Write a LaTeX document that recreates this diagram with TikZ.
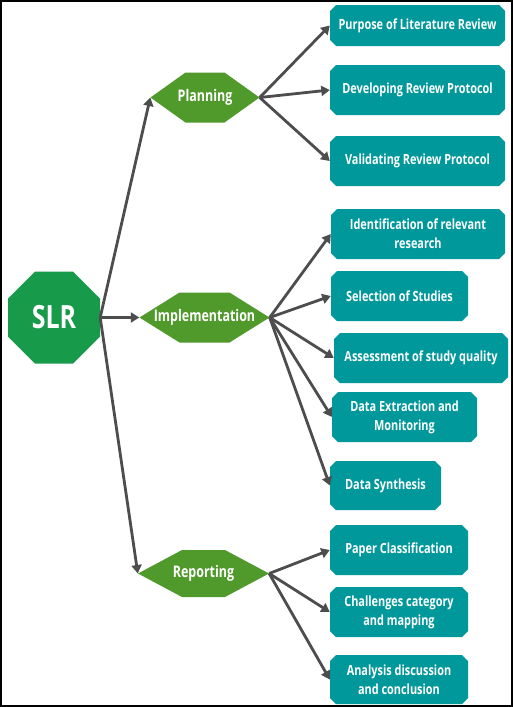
\documentclass[tikz,border=0pt]{standalone}
\usepackage{fontspec}
\setmainfont{Open Sans}[FakeStretch=0.78]
\usetikzlibrary{arrows.meta}
\definecolor{slrgreen}{HTML}{179A49}
\definecolor{hexgreen}{HTML}{4F9A2B}
\definecolor{boxteal}{HTML}{00989A}
\definecolor{arrowgray}{HTML}{4D4D4D}
\tikzset{
  hexa/.style n args={3}{shape=rectangle, inner sep=0pt, minimum width=#1pt, minimum height=#2pt,
    text=white, font=\fontsize{16}{19}\selectfont\bfseries,
    path picture={\fill[hexgreen] (path picture bounding box.west)
      -- ([xshift=#3pt]path picture bounding box.north west)
      -- ([xshift=-#3pt]path picture bounding box.north east)
      -- (path picture bounding box.east)
      -- ([xshift=-#3pt]path picture bounding box.south east)
      -- ([xshift=#3pt]path picture bounding box.south west) -- cycle;}},
  tbox/.style 2 args={shape=rectangle, inner sep=0pt, minimum width=#1pt, minimum height=#2pt,
    text=white, align=center, font=\fontsize{14}{19}\selectfont\bfseries,
    path picture={\fill[boxteal] ([yshift=-6pt]path picture bounding box.north west)
      -- ([xshift=6pt]path picture bounding box.north west)
      -- ([xshift=-6pt]path picture bounding box.north east)
      -- ([yshift=-6pt]path picture bounding box.north east)
      -- ([yshift=6pt]path picture bounding box.south east)
      -- ([xshift=-6pt]path picture bounding box.south east)
      -- ([xshift=6pt]path picture bounding box.south west)
      -- ([yshift=6pt]path picture bounding box.south west) -- cycle;}},
  conn/.style={draw=arrowgray, line width=2.8pt, -{Triangle[length=8.5pt,width=10pt]}},
}
\begin{document}
\begin{tikzpicture}[x=1pt,y=-1pt]
\useasboundingbox (0,0) rectangle (513,707);
\fill[white] (0,0) rectangle (513,707);
\draw[black, line width=1.5pt] (1,1) rectangle (512,706);

\node[shape=rectangle, inner sep=0pt, minimum width=92pt, minimum height=92pt, text=white,
  font=\fontsize{32}{36}\selectfont\bfseries,
  path picture={\fill[slrgreen] ([yshift=-27pt]path picture bounding box.north west)
      -- ([xshift=27pt]path picture bounding box.north west)
      -- ([xshift=-27pt]path picture bounding box.north east)
      -- ([yshift=-27pt]path picture bounding box.north east)
      -- ([yshift=27pt]path picture bounding box.south east)
      -- ([xshift=-27pt]path picture bounding box.south east)
      -- ([xshift=27pt]path picture bounding box.south west)
      -- ([yshift=27pt]path picture bounding box.south west) -- cycle;}]
  (slr) at (54,317.5) {SLR};

\node[hexa={109}{50}{35}] (plan) at (205,97.5) {Planning};
\node[hexa={130}{50}{40}] (impl) at (204.5,317.5) {Implementation};
\node[hexa={131}{47}{44}] (rep) at (203.5,573.5) {Reporting};

\node[tbox={175}{41}] (b1) at (417.5,25.5) {Purpose of Literature Review};
\node[tbox={175}{50}] (b2) at (417.5,90) {Developing Review Protocol};
\node[tbox={175}{50}] (b3) at (417.5,161) {Validating Review Protocol};
\node[tbox={174}{50}] (b4) at (418,234) {Identification of relevant\\research};
\node[tbox={137}{50}] (b5) at (399.5,296) {Selection of Studies};
\node[tbox={174}{50}] (b6) at (421,358) {Assessment of study quality};
\node[tbox={145}{50}] (b7) at (404.5,417) {Data Extraction and\\Monitoring};
\node[tbox={111}{49}] (b8) at (385.5,485.5) {Data Synthesis};
\node[tbox={138}{50}] (b9) at (399,550) {Paper Classification};
\node[tbox={138}{50}] (b10) at (399,612) {Challenges category\\and mapping};
\node[tbox={138}{49}] (b11) at (399,679.5) {Analysis discussion\\and conclusion};

\draw[conn] (slr.east) -- (plan.west);
\draw[conn] (slr.east) -- (impl.west);
\draw[conn] (slr.east) -- (rep.west);

\foreach \b in {b1,b2,b3} \draw[conn] (plan.east) -- (\b.west);
\foreach \b in {b4,b5,b6,b7,b8} \draw[conn] (impl.east) -- (\b.west);
\foreach \b in {b9,b10,b11} \draw[conn] (rep.east) -- (\b.west);
\end{tikzpicture}
\end{document}
